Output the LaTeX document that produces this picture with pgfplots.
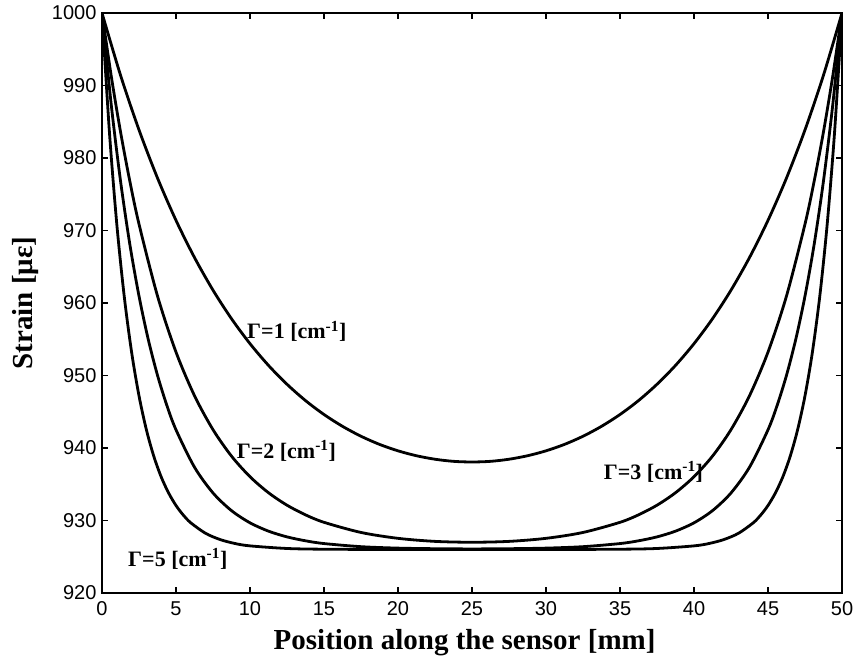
\documentclass[border=0pt]{standalone}
\usepackage{pgfplots}
\pgfplotsset{compat=1.18}
\usepackage{fontspec}
\setmainfont{Liberation Serif}
\newfontfamily\tickfont{Liberation Sans}
\begin{document}
\begin{tikzpicture}
\useasboundingbox (-102pt,-71pt) rectangle (752pt,593pt);
\begin{axis}[
  at={(0,0)}, anchor=south west,
  scale only axis, width=740pt, height=580pt,
  xmin=0, xmax=50, ymin=920, ymax=1000,
  xtick={0,5,...,50}, ytick={920,930,...,1000},
  tick align=inside, major tick length=6pt,
  axis line style={line width=1.2pt},
  every tick/.style={black, line width=1.2pt},
  tick label style={font=\tickfont\fontsize{20}{20}\selectfont},
  yticklabel style={xshift=-2pt},
  xticklabel style={yshift=-5pt},
  /pgf/number format/assume math mode=true,
  /pgf/number format/set thousands separator={},
  xlabel={Position along the sensor [mm]},
  ylabel={Strain [με]},
  label style={font=\bfseries\fontsize{29}{29}\selectfont},
  xlabel style={at={(axis description cs:0.49,-0.086)}, anchor=center},
  ylabel style={at={(axis description cs:-0.103,0.5)}, anchor=center},
  cycle list={{black, line width=2.8pt, smooth, no markers}},
]
% Gamma = 1
\addplot[black, line width=2.8pt, smooth] coordinates {
(0,1000.00) (1.25,991.43) (2.5,983.88) (3.75,977.24) (5,971.40) (6.25,966.27)
(7.5,961.77) (8.75,957.83) (10,954.39) (11.25,951.39) (12.5,948.79) (13.75,946.54)
(15,944.62) (16.25,942.99) (17.5,941.62) (18.75,940.50) (20,939.61) (21.25,938.93)
(22.5,938.45) (23.75,938.16) (25,938.07) (26.25,938.16) (27.5,938.45) (28.75,938.93)
(30,939.61) (31.25,940.50) (32.5,941.62) (33.75,942.99) (35,944.62) (36.25,946.54)
(37.5,948.79) (38.75,951.39) (40,954.39) (41.25,957.83) (42.5,961.77) (43.75,966.27)
(45,971.40) (46.25,977.24) (47.5,983.88) (48.75,991.43) (50,1000.00)
};
% Gamma = 2
\addplot[black, line width=2.8pt, smooth] coordinates {
(0,1000.00) (0.625,991.30) (1.25,983.63) (1.875,976.86) (2.5,970.89) (3.75,960.97)
(5,953.23) (6.25,947.21) (7.5,942.53) (8.75,938.88) (10,936.04) (11.25,933.83)
(12.5,932.11) (13.75,930.78) (15,929.75) (17.5,928.35) (20,927.54) (22.5,927.12)
(25,927.00) (27.5,927.12) (30,927.54) (32.5,928.35) (35,929.75) (36.25,930.78)
(37.5,932.11) (38.75,933.83) (40,936.04) (41.25,938.88) (42.5,942.53) (43.75,947.21)
(45,953.23) (46.25,960.97) (47.5,970.89) (48.125,976.86) (48.75,983.63) (49.375,991.30) (50,1000.00)
};
% Gamma = 3
\addplot[black, line width=2.8pt, smooth] coordinates {
(0,1000.00) (0.625,987.34) (1.25,976.86) (1.875,968.17) (2.5,960.96) (3.125,954.98)
(3.75,950.03) (4.375,945.92) (5,942.51) (6.25,937.35) (7.5,933.80) (8.75,931.36)
(10,929.68) (11.25,928.53) (12.5,927.74) (13.75,927.20) (15,926.82) (17.5,926.39)
(20,926.19) (22.5,926.11) (25,926.08) (27.5,926.11) (30,926.19) (32.5,926.39)
(35,926.82) (36.25,927.20) (37.5,927.74) (38.75,928.53) (40,929.68) (41.25,931.36)
(42.5,933.80) (43.75,937.35) (45,942.51) (45.625,945.92) (46.25,950.03) (46.875,954.98)
(47.5,960.96) (48.125,968.17) (48.75,976.86) (49.375,987.34) (50,1000.00)
};
% Gamma = 5
\addplot[black, line width=2.8pt, smooth] coordinates {
(0,1000.00) (0.5,983.63) (1,970.88) (1.5,960.96) (2,953.22) (2.5,947.20)
(3,942.51) (3.5,938.86) (4,936.01) (4.5,933.80) (5,932.07) (5.5,930.73) (6,929.68)
(7,928.23) (8,927.36) (9,926.82) (10,926.50) (12.5,926.14) (15,926.04) (20,926.00)
(25,926.00) (30,926.00) (35,926.04) (37.5,926.14) (40,926.50) (41,926.82)
(42,927.36) (43,928.23) (44,929.68) (44.5,930.73) (45,932.07) (45.5,933.80) (46,936.01)
(46.5,938.86) (47,942.51) (47.5,947.20) (48,953.22) (48.5,960.96) (49,970.88)
(49.5,983.63) (50,1000.00)
};
\node[anchor=west, font=\bfseries\fontsize{22}{22}\selectfont, inner sep=0pt] at (axis cs:9.8,956.1) {Γ=1 [cm\textsuperscript{-1}]};
\node[anchor=west, font=\bfseries\fontsize{22}{22}\selectfont, inner sep=0pt] at (axis cs:9.1,939.6) {Γ=2 [cm\textsuperscript{-1}]};
\node[anchor=west, font=\bfseries\fontsize{22}{22}\selectfont, inner sep=0pt] at (axis cs:33.9,936.7) {Γ=3 [cm\textsuperscript{-1}]};
\node[anchor=west, font=\bfseries\fontsize{22}{22}\selectfont, inner sep=0pt] at (axis cs:1.76,924.7) {Γ=5 [cm\textsuperscript{-1}]};
\end{axis}
\end{tikzpicture}
\end{document}
